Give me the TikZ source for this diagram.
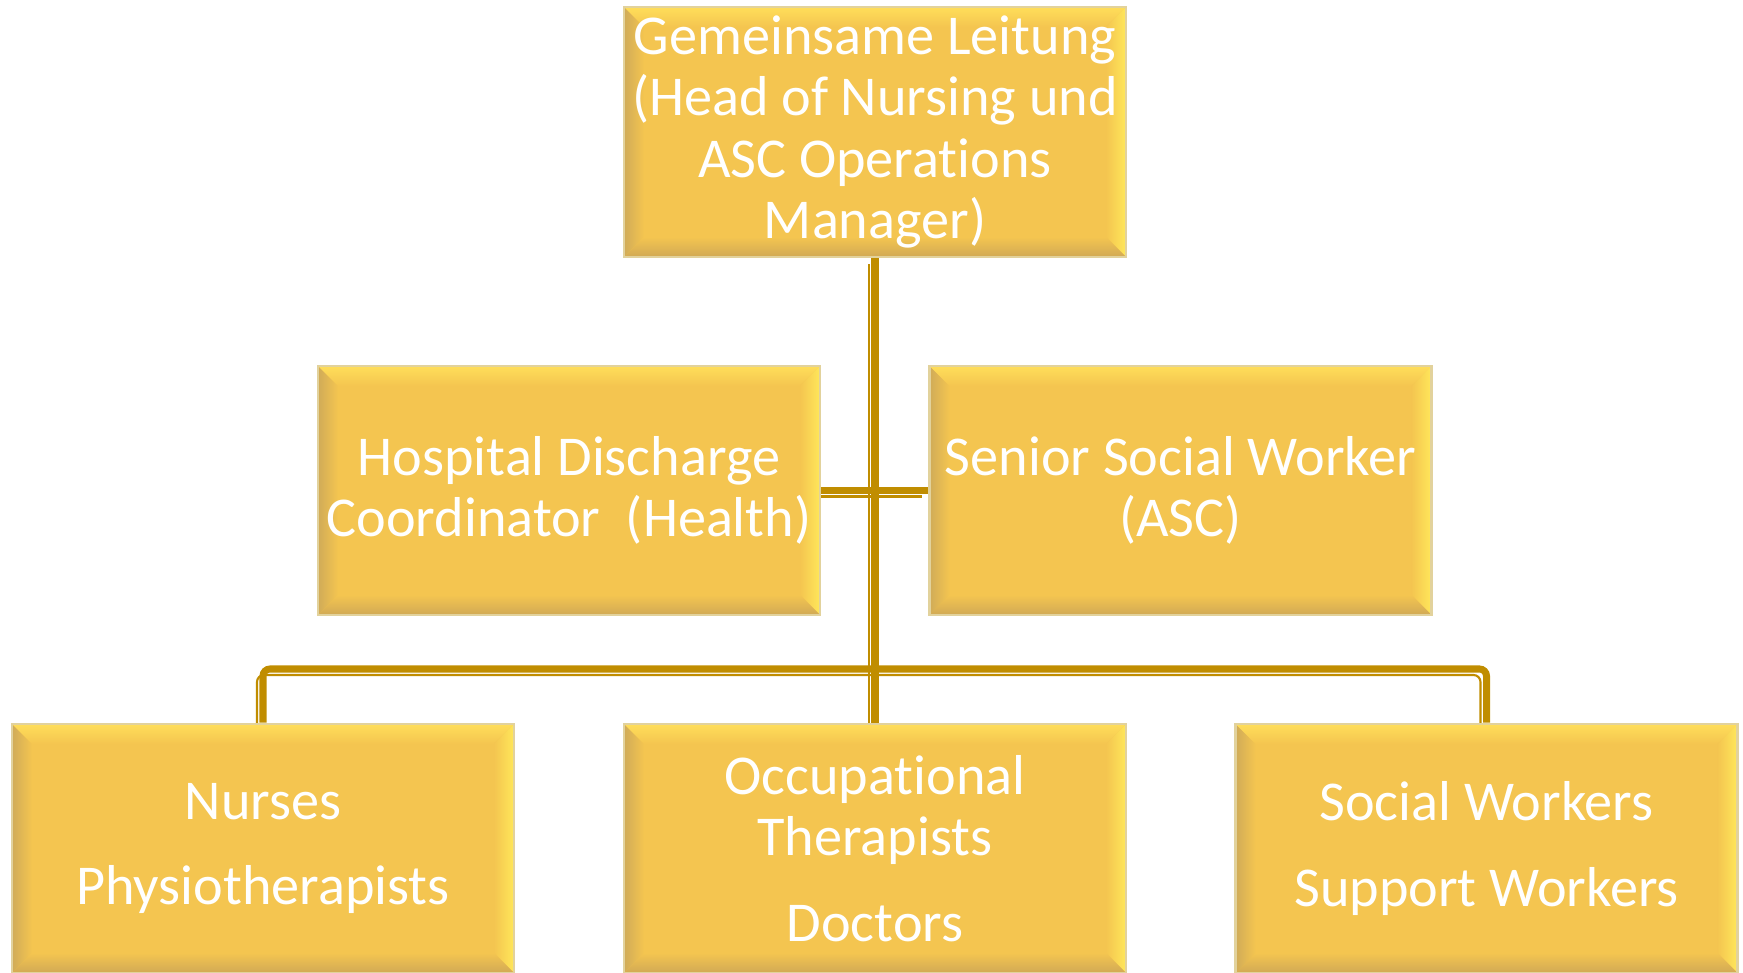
\documentclass[tikz,border=0pt]{standalone}
\usepackage{fontspec}
\setmainfont{Carlito}[RawFeature={-liga;-clig;-calt;-dlig}]
\usetikzlibrary{calc,backgrounds}
\definecolor{boxfill}{HTML}{F4C550}
\definecolor{boxedge}{HTML}{E2D29C}
\definecolor{bevelL}{HTML}{D0AB58}
\definecolor{bevelT}{HTML}{FFDE5A}
\definecolor{bevelR}{HTML}{FFE75A}
\definecolor{bevelB}{HTML}{D1A955}
\definecolor{lineclr}{HTML}{C08D00}
\newcommand{\bev}{0.2cm}
\newcommand{\parskp}{7pt}
\tikzset{
orgbox/.style={minimum width=5.02cm,minimum height=2.49cm,inner sep=0pt,fill=boxfill,draw=boxedge,line width=0.8pt,text=white,align=center,font=\fontsize{16}{17.4}\selectfont,
path picture={
\coordinate (psw) at (path picture bounding box.south west);
\coordinate (pne) at (path picture bounding box.north east);
\coordinate (pnw) at (psw |- pne);
\coordinate (pse) at (pne |- psw);
\shade[left color=bevelL,right color=boxfill] (psw)--(pnw)--($(pnw)+(\bev,-\bev)$)--($(psw)+(\bev,\bev)$)--cycle;
\shade[top color=bevelT,bottom color=boxfill] (pnw)--(pne)--($(pne)+(-\bev,-\bev)$)--($(pnw)+(\bev,-\bev)$)--cycle;
\shade[left color=boxfill,right color=bevelR] (pne)--(pse)--($(pse)+(-\bev,\bev)$)--($(pne)+(-\bev,-\bev)$)--cycle;
\shade[top color=boxfill,bottom color=bevelB] (pse)--(psw)--($(psw)+(\bev,\bev)$)--($(pse)+(-\bev,\bev)$)--cycle;
}},
conn/.style={draw=lineclr,line width=2pt,preaction={draw=lineclr,line width=0.6pt,transform canvas={shift={(-0.06cm,-0.06cm)}}}}
}
\begin{document}
\begin{tikzpicture}
\useasboundingbox (0,0) rectangle (17.43,9.73);
%boxes
\node[orgbox,minimum height=2.5cm] (lead) at (8.75,8.41) {Gemeinsame Leitung\\(Head of Nursing und\\ASC Operations\\Manager)};
\node[orgbox] (hdc) at (5.69,4.825) {Hospital Discharge\\Coordinator\ \ (Health)};
\node[orgbox] (ssw) at (11.805,4.825) {Senior Social Worker\\(ASC)};
\node[orgbox] (nurses) at (2.63,1.245) {Nurses\\[\parskp]Physiotherapists};
\node[orgbox] (ots) at (8.75,1.245) {Occupational\\Therapists\\[\parskp]Doctors};
\node[orgbox] (sw) at (14.865,1.245) {Social Workers\\[\parskp]Support Workers};
%lines
\coordinate (bus) at (8.75,3.04);
\begin{scope}[on background layer]
\draw[conn] (lead.south)--(ots.north);
\draw[conn] (hdc.east)--(ssw.west);
\draw[conn,rounded corners=2pt] (nurses.north) |- (bus) -| (sw.north);
\end{scope}
\end{tikzpicture}
\end{document}
